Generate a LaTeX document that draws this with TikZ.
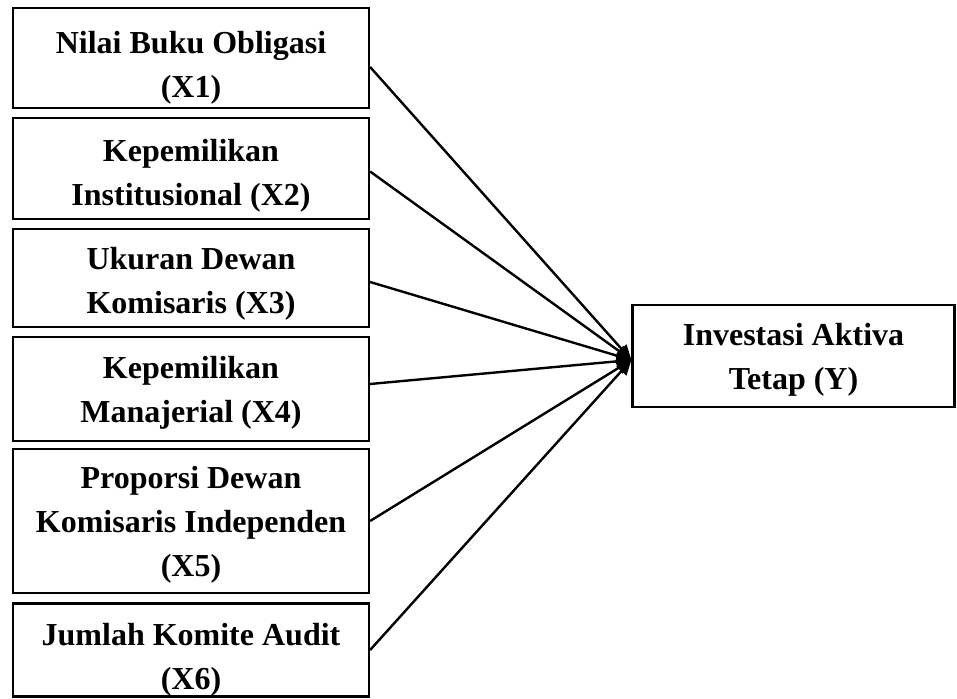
\documentclass[tikz,border=0pt]{standalone}
\usepackage{fontspec}
\setmainfont{Liberation Serif}
\usetikzlibrary{arrows.meta}
\newcommand{\lowtxt}[2]{\raisebox{-#1}[\height][\depth]{\begin{tabular}{@{}c@{}}#2\end{tabular}}}
\begin{document}
\begin{tikzpicture}[x=1pt,y=1pt,
  varbox/.style={draw=black, line width=2.2pt, minimum width=356pt, align=center,
    inner sep=0pt, font=\fontsize{32}{44}\selectfont\bfseries},
  arr/.style={line width=2.4pt, -{Triangle[length=15pt,width=13pt]}}]
\useasboundingbox (0,0) rectangle (957,698);
\renewcommand{\arraystretch}{1}
\node[varbox, minimum height=100pt] (b1) at (191,640) {\lowtxt{9pt}{Nilai Buku Obligasi\\(X1)}};
\node[varbox, minimum height=101pt] (b2) at (191,529.5) {\lowtxt{6pt}{Kepemilikan\\Institusional (X2)}};
\node[varbox, minimum height=98pt] (b3) at (191,420) {\lowtxt{5pt}{Ukuran Dewan\\Komisaris (X3)}};
\node[varbox, minimum height=104pt] (b4) at (191,309) {\lowtxt{3pt}{Kepemilikan\\Manajerial (X4)}};
\node[varbox, minimum height=144pt] (b5) at (191,177) {\lowtxt{3pt}{Proporsi Dewan\\Komisaris Independen\\(X5)}};
\node[varbox, minimum height=93pt] (b6) at (191,48) {\lowtxt{9pt}{Jumlah Komite Audit\\(X6)}};
\node[varbox, minimum width=322pt, minimum height=102pt] (y) at (793.5,342) {\lowtxt{3pt}{Investasi Aktiva\\Tetap (Y)}};
\coordinate (tip) at ([yshift=-4pt]y.west);
\draw[arr] ([yshift=-9pt]b1.east) -- (tip);
\draw[arr] ([yshift=-3pt]b2.east) -- (tip);
\draw[arr] ([yshift=-4pt]b3.east) -- (tip);
\draw[arr] ([yshift=5pt]b4.east) -- (tip);
\draw[arr] (b5.east) -- (tip);
\draw[arr] (b6.east) -- (tip);
\end{tikzpicture}
\end{document}
